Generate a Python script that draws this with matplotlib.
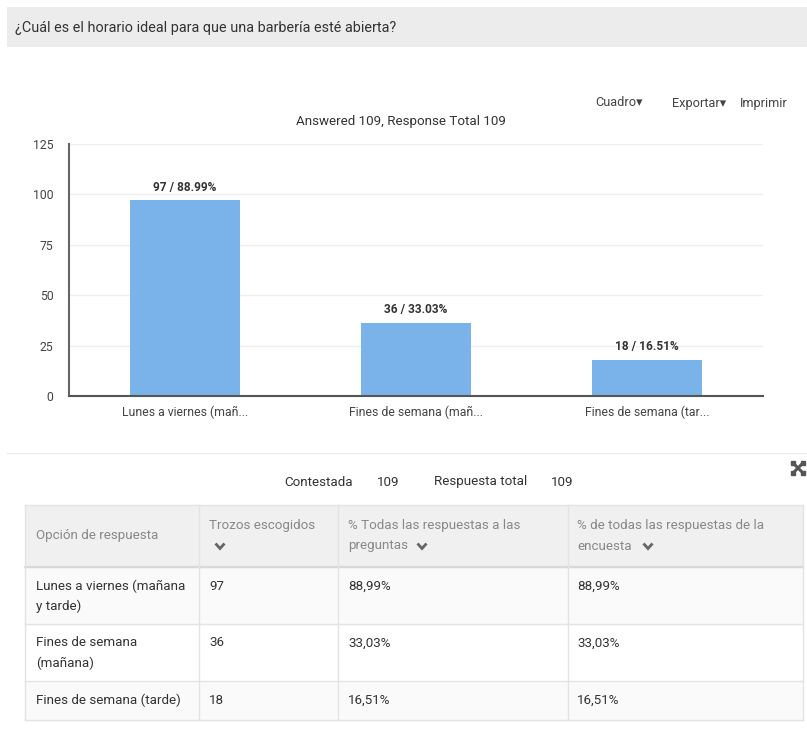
import matplotlib.pyplot as plt
from matplotlib.patches import Rectangle

plt.rcParams['font.family'] = ['Roboto', 'DejaVu Sans']

# Datos de la encuesta
question = "¿Cuál es el horario ideal para que una barbería esté abierta?"
tick_labels = ["Lunes a viernes (mañ...", "Fines de semana (mañ...", "Fines de semana (tar..."]
row_labels = ["Lunes a viernes (mañana\ny tarde)", "Fines de semana\n(mañana)", "Fines de semana (tarde)"]
counts = [97, 36, 18]
percents = [88.99, 33.03, 16.51]
answered = 109
response_total = 109
y_ticks = [0, 25, 50, 75, 100, 125]

W, H = 807, 730
fig = plt.figure(figsize=(W / 100, H / 100), dpi=100)
fig.patch.set_facecolor('white')

# Ebene für die Seite (Pixelkoordinaten)
page = fig.add_axes([0, 0, 1, 1])
page.set_xlim(0, W)
page.set_ylim(H, 0)
page.axis('off')

# Kopfzeile mit der Frage
page.add_patch(Rectangle((7, 7), W - 7, 40, facecolor='#ececec', edgecolor='none'))
page.text(15, 28, question, fontsize=10.4, color='#333333', va='center', ha='left')

# Menü
for x, label in [(595, "Cuadro▾"), (672, "Exportar▾"), (740, "Imprimir")]:
    page.text(x, 103, label, fontsize=9.2, color='#444444', va='center', ha='left')

page.text(401, 121, f"Answered {answered}, Response Total {response_total}",
          fontsize=9.6, color='#333333', va='center', ha='center')

# Balkendiagramm
ax = fig.add_axes([69 / W, 1 - 396 / H, (763 - 69) / W, (396 - 144) / H])
ax.set_facecolor('none')
xs = list(range(len(counts)))
bars = ax.bar(xs, counts, width=0.475, color='#7ab3ea', zorder=2)
for b, c, p in zip(bars, counts, percents):
    ax.annotate(f"{c} / {p:.2f}%", (b.get_x() + b.get_width() / 2, b.get_height()),
                xytext=(0, 5), textcoords='offset points', ha='center', va='bottom',
                fontsize=8.6, fontweight='bold', color='#333333')
ax.set_xlim(-0.5, 2.5)
ax.set_ylim(0, 125)
ax.set_yticks(y_ticks)
ax.set_xticks(xs)
ax.set_xticklabels(tick_labels)
ax.grid(axis='y', color='#efefef', linewidth=1, zorder=0)
ax.tick_params(axis='y', length=0, pad=11, labelsize=8.8, labelcolor='#444444')
ax.tick_params(axis='x', length=0, pad=7, labelsize=8.8, labelcolor='#444444')
for s in ['top', 'right']:
    ax.spines[s].set_visible(False)
ax.spines['left'].set_color('#666666')
ax.spines['left'].set_linewidth(1.5)
ax.spines['bottom'].set_color('#555555')
ax.spines['bottom'].set_linewidth(1.5)

# Trennlinie
page.plot([7, W], [453, 453], color='#ebebeb', lw=1)

# Expandieren-Symbol
page.plot([793, 803], [463, 473], color='#555555', lw=2.2, solid_capstyle='butt')
page.plot([793, 803], [473, 463], color='#555555', lw=2.2, solid_capstyle='butt')
page.plot([793, 803, 793, 803], [463, 463, 473, 473], 's', color='#555555', ms=2.5)

# Zusammenfassung
for x, label in [(284, "Contestada"), (377, str(answered)), (434, "Respuesta total"), (551, str(response_total))]:
    page.text(x, 482, label, fontsize=9.6, color='#333333', va='center', ha='left')

# Tabelle
left, right = 25, 803
col_x = [25, 199, 338, 568, 803]
row_y = [505, 567, 624, 681, 720]

page.add_patch(Rectangle((left, row_y[0]), right - left, row_y[1] - row_y[0],
                         facecolor='#f0f0f0', edgecolor='none'))
row_colors = ['#fafafa', '#ffffff', '#fafafa']
for i, c in enumerate(row_colors):
    page.add_patch(Rectangle((left, row_y[i + 1]), right - left, row_y[i + 2] - row_y[i + 1],
                             facecolor=c, edgecolor='none'))
for y in row_y:
    page.plot([left, right], [y, y], color='#e3e3e3', lw=1)
page.plot([left, right], [row_y[1], row_y[1]], color='#d8d8d8', lw=1.6)
for x in col_x:
    page.plot([x, x], [row_y[0], row_y[-1]], color='#e3e3e3', lw=1)


def chevron(x, y):
    page.plot([x - 4.5, x, x + 4.5], [y - 2.5, y + 2.5, y - 2.5], color='#666666',
              lw=2, solid_capstyle='butt', solid_joinstyle='miter')


hdr_color = '#888888'
page.text(36, 536, "Opción de respuesta", fontsize=9.6, color=hdr_color, va='center')
page.text(209, 526, "Trozos escogidos", fontsize=9.6, color=hdr_color, va='center')
chevron(220, 546)
page.text(348, 526, "% Todas las respuestas a las", fontsize=9.6, color=hdr_color, va='center')
page.text(348, 546, "preguntas", fontsize=9.6, color=hdr_color, va='center')
chevron(422, 546)
page.text(577, 526, "% de todas las respuestas de la", fontsize=9.6, color=hdr_color, va='center')
page.text(577, 546, "encuesta", fontsize=9.6, color=hdr_color, va='center')
chevron(648, 546)

for i, (lab, c, p) in enumerate(zip(row_labels, counts, percents)):
    y0 = row_y[i + 1] + 19
    for j, line in enumerate(lab.split("\n")):
        page.text(36, y0 + j * 20, line, fontsize=9.6, color='#333333', va='center')
    pct = f"{p:.2f}".replace(".", ",") + "%"
    page.text(209, y0, str(c), fontsize=9.6, color='#333333', va='center')
    page.text(348, y0, pct, fontsize=9.6, color='#333333', va='center')
    page.text(577, y0, pct, fontsize=9.6, color='#333333', va='center')

fig.savefig('out.png', dpi=100)
